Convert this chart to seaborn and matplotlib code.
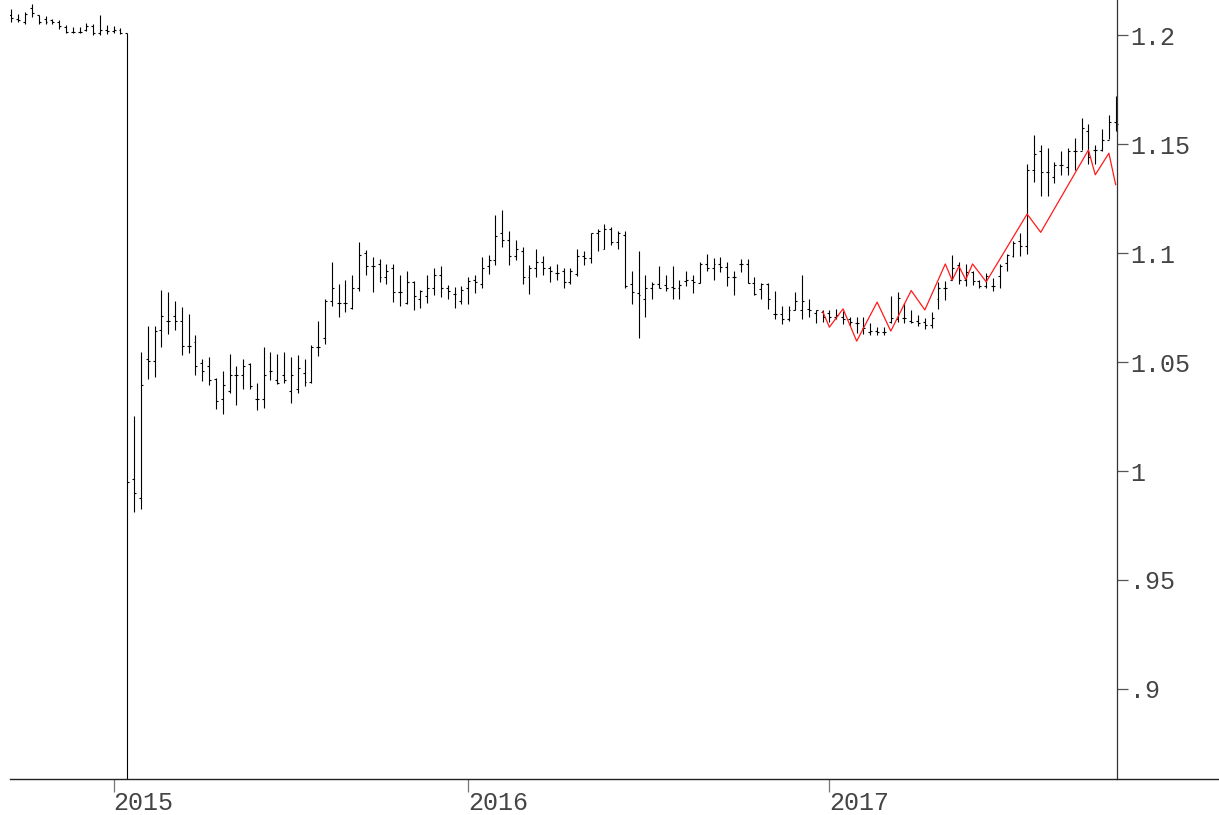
import numpy as np
import pandas as pd
import matplotlib
matplotlib.use("Agg")
import matplotlib.pyplot as plt
import matplotlib.dates as mdates
import seaborn as sns

# ---------------- data (weekly OHLC, EUR/CHF, Friday closes) ----------------
week_start = "2014-09-19"
week_end = "2017-10-27"

open_ = [
    1.2090, 1.2075, 1.2060, 1.2125, 1.2090, 1.2075, 1.2070, 1.2060, 1.2035, 1.2015,
    1.2012, 1.2025, 1.2040, 1.2010, 1.2025, 1.2020, 1.2022, 1.2010,
    0.9962, 0.9875, 1.0512, 1.0504, 1.0649, 1.0687, 1.0710, 1.0687, 1.0573, 1.0591,
    1.0497, 1.0481, 1.0421, 1.0329, 1.0367, 1.0440, 1.0440, 1.0489, 1.0332, 1.0332,
    1.0458, 1.0416, 1.0440, 1.0367, 1.0378, 1.0448, 1.0408, 1.0570, 1.0611, 1.0779,
    1.0771, 1.0771, 1.0748, 1.0840, 1.1000, 1.0939, 1.0950, 1.0891, 1.0932, 1.0820,
    1.0771, 1.0868, 1.0787, 1.0802, 1.0840, 1.0901, 1.0840, 1.0810, 1.0779,
    1.0840, 1.0878, 1.0859, 1.0939, 1.0970, 1.1092, 1.1061, 1.0988, 1.1011, 1.0891,
    1.0932, 1.0959, 1.0930, 1.0909, 1.0919, 1.0869, 1.0906, 1.0988, 1.0978, 1.1092,
    1.1019, 1.1110, 1.1051, 1.1081, 1.0859, 1.0817, 1.0790, 1.0838, 1.0859, 1.0854,
    1.0843, 1.0840, 1.0870, 1.0878, 1.0862, 1.0950, 1.0932, 1.0950, 1.0935, 1.0891,
    1.0950, 1.0950, 1.0862, 1.0836, 1.0857, 1.0721, 1.0721, 1.0698, 1.0741, 1.0741,
    1.0744, 1.0723, 1.0729,
    1.0723, 1.0707, 1.0707, 1.0698, 1.0680, 1.0657, 1.0637, 1.0641, 1.0637, 1.0683,
    1.0698, 1.0703, 1.0690, 1.0690, 1.0683, 1.0668, 1.0787, 1.0840, 1.0878, 1.0947,
    1.0878, 1.0913, 1.0870, 1.0851, 1.0848, 1.0893, 1.0955, 1.0985, 1.1054, 1.1031,
    1.1382, 1.1466, 1.1370, 1.1351, 1.1402, 1.1397, 1.1470, 1.1470, 1.1562, 1.1472,
    1.1472, 1.1519, 1.1600,
]
high = [
    1.2122, 1.2099, 1.2107, 1.2142, 1.2092, 1.2087, 1.2076, 1.2069, 1.2046, 1.2038,
    1.2038, 1.2054, 1.2050, 1.2092, 1.2046, 1.2041, 1.2031, 1.2010,
    1.0252, 1.0545, 1.0664, 1.0664, 1.0832, 1.0822, 1.0782, 1.0751, 1.0721, 1.0622,
    1.0512, 1.0522, 1.0425, 1.0458, 1.0535, 1.0481, 1.0512, 1.0497, 1.0402, 1.0570,
    1.0547, 1.0538, 1.0547, 1.0522, 1.0530, 1.0512, 1.0576, 1.0690, 1.0787, 1.0959,
    1.0859, 1.0878, 1.0901, 1.1051, 1.1012, 1.0982, 1.0973, 1.0950, 1.0950, 1.0901,
    1.0919, 1.0870, 1.0829, 1.0899, 1.0932, 1.0939, 1.0852, 1.0843, 1.0851,
    1.0891, 1.0901, 1.0980, 1.0989, 1.1173, 1.1199, 1.1099, 1.1058, 1.1028, 1.0947,
    1.1020, 1.0988, 1.0939, 1.0950, 1.0930, 1.0930, 1.1020, 1.1011, 1.1092, 1.1112,
    1.1135, 1.1118, 1.1099, 1.1099, 1.0919, 1.1011, 1.0901, 1.0868, 1.0941, 1.0901,
    1.0941, 1.0878, 1.0916, 1.0901, 1.0957, 1.0997, 1.0978, 1.0980, 1.0957, 1.0919,
    1.0973, 1.0973, 1.0891, 1.0862, 1.0862, 1.0828, 1.0759, 1.0759, 1.0822, 1.0901,
    1.0790, 1.0738, 1.0738,
    1.0738, 1.0744, 1.0733, 1.0707, 1.0707, 1.0707, 1.0680, 1.0662, 1.0662, 1.0802,
    1.0822, 1.0770, 1.0741, 1.0718, 1.0703, 1.0729, 1.0866, 1.0870, 1.0990, 1.0957,
    1.0951, 1.0916, 1.0878, 1.0909, 1.0886, 1.0951, 1.0997, 1.1054, 1.1092, 1.1409,
    1.1542, 1.1496, 1.1481, 1.1420, 1.1470, 1.1481, 1.1527, 1.1619, 1.1592, 1.1496,
    1.1568, 1.1634, 1.1720,
]
low = [
    1.2058, 1.2058, 1.2050, 1.2084, 1.2050, 1.2050, 1.2050, 1.2027, 1.2008, 1.2008,
    1.2008, 1.2020, 1.2000, 1.2000, 1.2003, 1.2008, 1.2005, 0.8500,
    0.9810, 0.9825, 1.0424, 1.0431, 1.0568, 1.0630, 1.0646, 1.0532, 1.0543, 1.0440,
    1.0413, 1.0393, 1.0286, 1.0260, 1.0356, 1.0301, 1.0378, 1.0378, 1.0280, 1.0291,
    1.0416, 1.0397, 1.0405, 1.0314, 1.0359, 1.0390, 1.0405, 1.0527, 1.0585, 1.0759,
    1.0707, 1.0728, 1.0745, 1.0828, 1.0898, 1.0820, 1.0866, 1.0859, 1.0776, 1.0759,
    1.0768, 1.0738, 1.0747, 1.0771, 1.0808, 1.0799, 1.0791, 1.0748, 1.0767,
    1.0768, 1.0817, 1.0838, 1.0906, 1.0947, 1.1028, 1.0947, 1.0970, 1.0859, 1.0810,
    1.0891, 1.0898, 1.0868, 1.0875, 1.0840, 1.0859, 1.0897, 1.0947, 1.0955, 1.1008,
    1.1019, 1.1038, 1.1019, 1.0840, 1.0767, 1.0608, 1.0707, 1.0787, 1.0838, 1.0825,
    1.0787, 1.0787, 1.0848, 1.0817, 1.0862, 1.0916, 1.0875, 1.0912, 1.0851, 1.0806,
    1.0912, 1.0862, 1.0806, 1.0790, 1.0745, 1.0698, 1.0675, 1.0690, 1.0741, 1.0698,
    1.0707, 1.0680, 1.0683,
    1.0683, 1.0698, 1.0675, 1.0664, 1.0634, 1.0630, 1.0626, 1.0626, 1.0622, 1.0677,
    1.0683, 1.0680, 1.0680, 1.0664, 1.0652, 1.0657, 1.0745, 1.0783, 1.0878, 1.0859,
    1.0851, 1.0855, 1.0840, 1.0840, 1.0828, 1.0840, 1.0916, 1.0980, 1.0985, 1.0997,
    1.1328, 1.1260, 1.1260, 1.1321, 1.1359, 1.1359, 1.1379, 1.1473, 1.1409, 1.1409,
    1.1466, 1.1522, 1.1560,
]
close = [
    1.2080, 1.2068, 1.2095, 1.2100, 1.2060, 1.2060, 1.2062, 1.2040, 1.2015, 1.2012,
    1.2015, 1.2040, 1.2010, 1.2025, 1.2020, 1.2022, 1.2010, 0.9949,
    0.9898, 1.0394, 1.0504, 1.0642, 1.0710, 1.0687, 1.0687, 1.0573, 1.0573, 1.0481,
    1.0458, 1.0417, 1.0321, 1.0394, 1.0440, 1.0440, 1.0481, 1.0390, 1.0332, 1.0440,
    1.0458, 1.0405, 1.0416, 1.0440, 1.0471, 1.0408, 1.0570, 1.0570, 1.0782, 1.0840,
    1.0771, 1.0771, 1.0840, 1.0990, 1.0939, 1.0939, 1.0891, 1.0916, 1.0820, 1.0820,
    1.0868, 1.0802, 1.0825, 1.0840, 1.0901, 1.0840, 1.0828, 1.0810, 1.0832,
    1.0870, 1.0866, 1.0932, 1.0970, 1.1076, 1.1061, 1.0988, 1.1019, 1.0891, 1.0932,
    1.0959, 1.0930, 1.0916, 1.0909, 1.0869, 1.0919, 1.0988, 1.0978, 1.1092, 1.1099,
    1.1110, 1.1051, 1.1092, 1.0848, 1.0820, 1.0808, 1.0838, 1.0859, 1.0838, 1.0838,
    1.0838, 1.0855, 1.0875, 1.0868, 1.0950, 1.0932, 1.0950, 1.0935, 1.0891, 1.0891,
    1.0950, 1.0862, 1.0810, 1.0857, 1.0787, 1.0721, 1.0698, 1.0741, 1.0779, 1.0782,
    1.0738, 1.0738, 1.0707,
    1.0707, 1.0718, 1.0698, 1.0683, 1.0680, 1.0657, 1.0641, 1.0637, 1.0637, 1.0703,
    1.0794, 1.0703, 1.0685, 1.0680, 1.0668, 1.0700, 1.0840, 1.0840, 1.0932, 1.0878,
    1.0913, 1.0870, 1.0851, 1.0893, 1.0848, 1.0939, 1.0990, 1.1047, 1.1031, 1.1382,
    1.1455, 1.1370, 1.1370, 1.1402, 1.1402, 1.1470, 1.1470, 1.1573, 1.1440, 1.1472,
    1.1519, 1.1603, 1.1590,
]

# red zig-zag series
red_dates = [
    "2016-12-30", "2017-01-06", "2017-01-20", "2017-02-03", "2017-02-24", "2017-03-10",
    "2017-03-31", "2017-04-14", "2017-05-05", "2017-05-12", "2017-05-19", "2017-05-26",
    "2017-06-02", "2017-06-16", "2017-07-28", "2017-08-11", "2017-09-29", "2017-10-06",
    "2017-10-20", "2017-10-27",
]
red_values = [
    1.0733, 1.0660, 1.0744, 1.0596, 1.0775, 1.0642,
    1.0828, 1.0739, 1.0950, 1.0875, 1.0939, 1.0878,
    1.0950, 1.0868, 1.1179, 1.1095, 1.1473, 1.1359,
    1.1458, 1.1313,
]

year_tick_dates = ["2015-01-02", "2016-01-01", "2017-01-06"]
year_tick_labels = ["2015", "2016", "2017"]
y_ticks = [0.90, 0.95, 1.00, 1.05, 1.10, 1.15, 1.20]
y_tick_labels = [".9", ".95", "1", "1.05", "1.1", "1.15", "1.2"]

# ---------------- plotting ----------------
sns.set_theme(style="white")
plt.rcParams["font.family"] = ["Liberation Mono", "DejaVu Sans Mono"]

W, H = 1219, 815
fig = plt.figure(figsize=(W / 100, H / 100), dpi=100)
ax = fig.add_axes([10 / W, 36 / H, (W - 10) / W, 779 / H])

dates = pd.date_range(week_start, week_end, freq="W-FRI")
xd = mdates.date2num(dates.to_pydatetime())
o = np.array(open_); h = np.array(high); l = np.array(low); c = np.array(close)

lw = 0.8
ax.vlines(xd, l, h, color="black", lw=lw)
tick_half = 2.0  # days
ax.hlines(o, xd - tick_half, xd, color="black", lw=lw)
ax.hlines(c, xd, xd + tick_half, color="black", lw=lw)

red_df = pd.DataFrame({
    "x": mdates.date2num(pd.to_datetime(red_dates).to_pydatetime()),
    "y": red_values,
})
sns.lineplot(data=red_df, x="x", y="y", color="#ff1a1a", lw=0.9,
             estimator=None, sort=False, ax=ax, zorder=3)

# scales
base = mdates.date2num(pd.Timestamp("2015-01-01").to_pydatetime())
px_per_day = 0.9738
ax.set_xlim(base - 102.7 / px_per_day, base + 1106.3 / px_per_day)
ax.set_ylim(0.8587, 1.2161)

# spines
for s in ("left", "top"):
    ax.spines[s].set_visible(False)
ax.spines["bottom"].set_color("#222222")
ax.spines["bottom"].set_linewidth(1.0)
ax.spines["right"].set_position(("data", base + 1004.3 / px_per_day))
ax.spines["right"].set_color("#333333")
ax.spines["right"].set_linewidth(0.9)

# y axis on the right
ax.yaxis.tick_right()
ax.set_yticks(y_ticks)
ax.set_yticklabels(y_tick_labels)
ax.tick_params(axis="y", which="major", direction="out", length=8, width=0.9,
               color="#555555", pad=1.5, labelsize=18, labelcolor="#444444",
               left=False, right=True)

# x axis
xt = mdates.date2num(pd.to_datetime(year_tick_dates).to_pydatetime())
ax.set_xticks(xt)
ax.set_xticklabels(year_tick_labels, ha="left")
ax.tick_params(axis="x", which="major", direction="out", length=9, width=0.9,
               color="#777777", pad=0, labelsize=18, labelcolor="#444444",
               bottom=True, top=False)
ax.set_xlabel("")
ax.set_ylabel("")
ax.grid(False)
ax.set_facecolor("white")

fig.savefig("out.png", dpi=100, facecolor="white")
